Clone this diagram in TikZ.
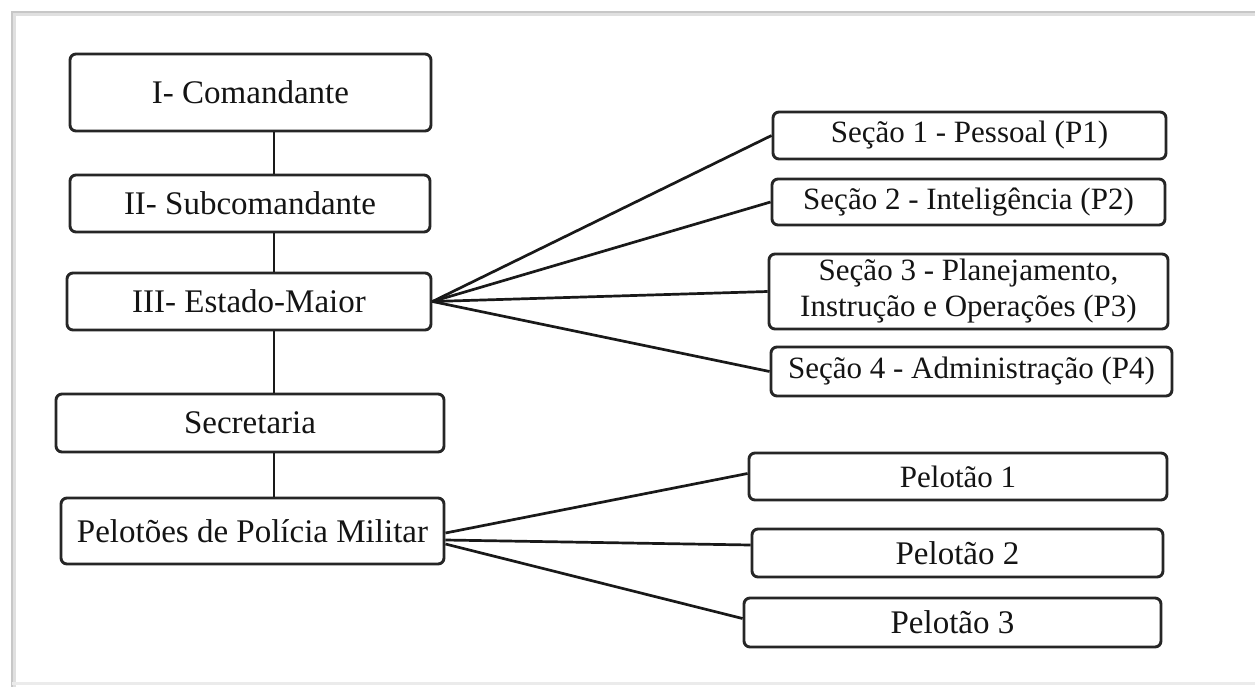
\documentclass[tikz,border=0pt]{standalone}
\usepackage{fontspec}
\setmainfont{Liberation Serif}
\usetikzlibrary{calc}
\begin{document}
\begin{tikzpicture}[x=1pt,y=-1pt,
  box/.style={draw=black!85, line width=2.9pt, rounded corners=6pt, inner sep=0pt,
    align=center, text=black!92, font=\fontsize{31}{36}\selectfont},
  bigbox/.style={box, font=\fontsize{33}{38}\selectfont},
  link/.style={draw=black!90, line width=2.7pt}]
\useasboundingbox (0,0) rectangle (1255,686);
\fill[white] (0,0) rectangle (1255,686);
% frame
\draw[black!12, line width=5pt] (13,1300) -- (13,13) -- (1300,13);
\draw[black!22, line width=2.2pt] (12,1300) -- (12,12) -- (1300,12);
\draw[black!8, line width=3pt] (12,683) -- (1300,683);
% left column
\node[bigbox, minimum width=361pt, minimum height=77pt] (cmd) at (250.5,92.5) {I- Comandante};
\node[bigbox, minimum width=360pt, minimum height=57pt] (sub) at (250,203.5) {II- Subcomandante};
\node[bigbox, minimum width=364pt, minimum height=57pt] (em) at (249,301.5) {III- Estado-Maior};
\node[bigbox, minimum width=388pt, minimum height=58pt] (sec) at (250,423) {Secretaria};
\node[bigbox, minimum width=383pt, minimum height=66pt] (pm) at (252.5,531) {Pelotões de Polícia Militar};
% sections
\node[box, minimum width=393pt, minimum height=47pt] (s1) at (969.5,135.5) {Seção 1 - Pessoal (P1)};
\node[box, minimum width=393pt, minimum height=46pt] (s2) at (968.5,202) {Seção 2 - Inteligência (P2)};
\node[box, minimum width=399pt, minimum height=75pt] (s3) at (968.5,291.5) {Seção 3 - Planejamento,\\Instrução e Operações (P3)};
\node[box, minimum width=401pt, minimum height=49pt] (s4) at (971.5,371.5) {Seção 4 - Administração (P4)};
% platoons
\node[box, minimum width=418pt, minimum height=47pt] (p1) at (958,476.5) {Pelotão 1};
\node[bigbox, minimum width=411pt, minimum height=48pt] (p2) at (957.5,553) {Pelotão 2};
\node[bigbox, minimum width=417pt, minimum height=49pt] (p3) at (952.5,622.5) {Pelotão 3};
% vertical connectors
\coordinate (vx) at (274,0);
\draw[link] (cmd.south -| vx) -- (sub.north -| vx);
\draw[link] (sub.south -| vx) -- (em.north -| vx);
\draw[link] (em.south -| vx) -- (sec.north -| vx);
\draw[link] (sec.south -| vx) -- (pm.north -| vx);
% fan from Estado-Maior
\draw[link] (em.east) -- (s1.west);
\draw[link] (em.east) -- (s2.west);
\draw[link] (em.east) -- (s3.west);
\draw[link] (em.east) -- (s4.west);
% fan from Pelotoes
\draw[link] ([yshift=-2pt]pm.east) -- ([yshift=3pt]p1.west);
\draw[link] ([yshift=-9pt]pm.east) -- ([yshift=8pt]p2.west);
\draw[link] ([yshift=-13pt]pm.east) -- ([yshift=4pt]p3.west);
\end{tikzpicture}
\end{document}
